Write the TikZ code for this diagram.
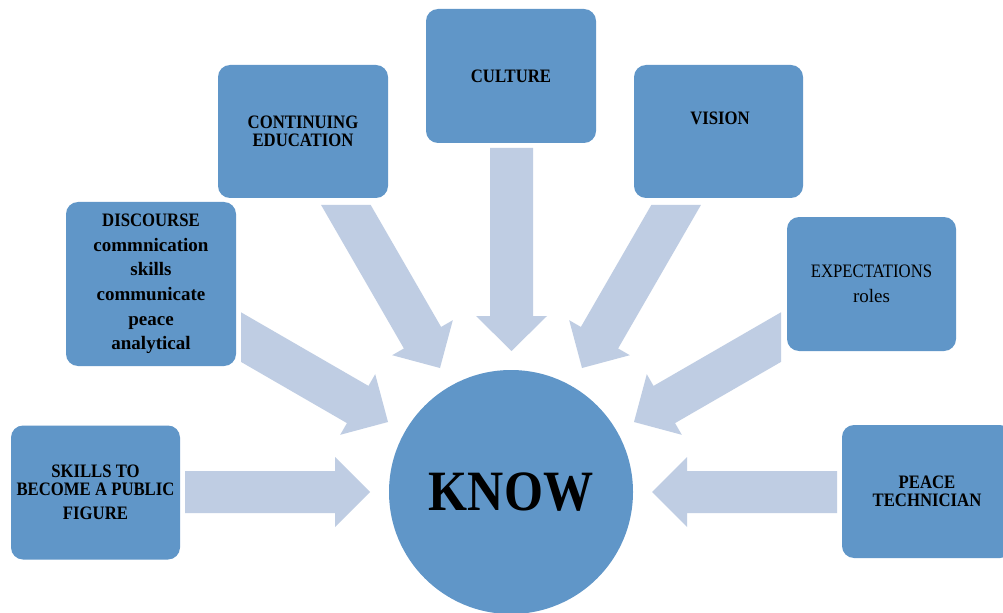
\documentclass[tikz,border=0pt]{standalone}
\usepackage{fontspec}
\setmainfont{Liberation Serif}[FakeStretch=0.88]
\newfontfamily\lcfont{Liberation Serif}
\definecolor{boxblue}{RGB}{96,150,200}
\definecolor{arrowblue}{RGB}{191,205,227}
\begin{document}
\begin{tikzpicture}[x=0.75pt,y=-0.75pt,
  box/.style={rectangle, rounded corners=9pt, fill=boxblue, inner sep=0pt,
    minimum width=127.5pt, minimum height=100.5pt, align=center,
    font=\bfseries\fontsize{14.25}{13.5}\selectfont},
  boxtext/.style={inner sep=0pt, align=center, font=\bfseries\fontsize{14.25}{13.5}\selectfont},
  blockarrow/.style={fill=arrowblue}]
\useasboundingbox (0,0) rectangle (1003,613);
\clip (0,0) rectangle (1003,613);
\fill[white] (0,0) rectangle (1003,613);
% block arrows
\fill[blockarrow] (185,471) -- (335,471) -- (335,457) -- (370,492) -- (335,527) -- (335,513) -- (185,513) -- cycle;
\fill[blockarrow] (837,471) -- (687,471) -- (687,457) -- (652,492) -- (687,527) -- (687,513) -- (837,513) -- cycle;
\fill[blockarrow] (490,148) -- (533,148) -- (533,316) -- (547,316) -- (511.5,351) -- (476,316) -- (490,316) -- cycle;
\fill[blockarrow] (321.1,205) -- (370.7,205) -- (441.1,326.95) -- (452.8,320.2) -- (440,368) -- (392.2,355.2) -- (403.9,348.45) -- cycle;
\fill[blockarrow] (700.9,205) -- (651.3,205) -- (580.9,326.95) -- (569.2,320.2) -- (582,368) -- (629.8,355.2) -- (618.1,348.45) -- cycle;
\fill[blockarrow] (241,312.3) -- (368.45,385.9) -- (375.2,374.2) -- (388,422) -- (340.2,434.8) -- (346.95,423.1) -- (241,361.9) -- cycle;
\fill[blockarrow] (781,312.3) -- (653.55,385.9) -- (646.8,374.2) -- (634,422) -- (681.8,434.8) -- (675.05,423.1) -- (781,361.9) -- cycle;
% boxes
\node[box, minimum width=126.75pt] (skills) at (95.5,492.5)
  {SKILLS TO\\BECOME A PUBLIC\\[4.5pt]FIGURE};
\node[box, minimum height=123pt, font=\bfseries\fontsize{14.25}{18.4}\selectfont] (discourse) at (151,284)
  {DISCOURSE\\{\lcfont commnication}\\{\lcfont skills}\\{\lcfont communicate}\\{\lcfont peace}\\{\lcfont analytical}};
\node[box, minimum height=99.75pt] (contedu) at (303,131.5) {CONTINUING\\EDUCATION};
\node[box] (culture) at (511,76) {CULTURE};
\node[box, minimum width=126.75pt, minimum height=99.75pt] (vision) at (718.5,131.5) {};
\node[boxtext] (visiontext) at (720,118) {VISION};
\node[box, minimum width=126.75pt, font=\fontsize{14.25}{18.75}\selectfont] (expect) at (871.5,284)
  {EXPECTATIONS\\{\lcfont roles}};
\node[box, minimum height=99.75pt] (peace) at (927,491.5) {PEACE\\TECHNICIAN};
% central circle
\node[circle, fill=boxblue, minimum size=183pt, inner sep=0pt,
  font=\bfseries\fontsize{42.75}{50}\selectfont] (know) at (511,492) {KNOW};
\end{tikzpicture}
\end{document}
